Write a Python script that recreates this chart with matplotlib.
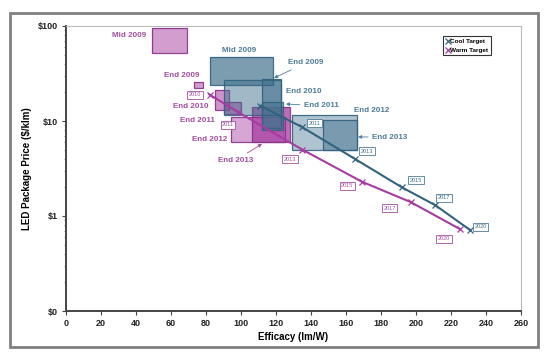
import matplotlib
matplotlib.use("Agg")
import matplotlib.pyplot as plt
from matplotlib.patches import Rectangle
from matplotlib.ticker import FixedLocator, LogLocator, NullFormatter

plt.rcParams['font.family'] = ['Liberation Sans', 'DejaVu Sans']

# ---- data ----
cool_years = ["2010", "2011", "2013", "2015", "2017", "2020"]
cool_eff = [111, 135, 165, 192, 211, 231]
cool_price = [14.5, 8.6, 4.0, 2.0, 1.3, 0.71]

warm_years = ["2010", "2011", "2013", "2015", "2017", "2020"]
warm_eff = [82, 98, 135, 169, 197, 225]
warm_price = [19.0, 12.5, 5.0, 2.3, 1.4, 0.73]

# boxes: (efficacy min, efficacy max, price min, price max)
box_names = ["Mid 2009", "End 2009", "End 2010", "End 2011", "End 2012", "End 2013"]
warm_eff_lo = [49, 73, 85, 90, 94, 106]
warm_eff_hi = [69, 78, 93, 100, 125, 128]
warm_price_lo = [52, 22, 13, 11.8, 6.0, 6.0]
warm_price_hi = [95, 26, 21, 16, 11, 14]

cool_eff_lo = [82, 112, 90, 112, 129, 147]
cool_eff_hi = [118, 123, 123, 124, 166, 166]
cool_price_lo = [24, 8.5, 11.6, 8.0, 5.0, 5.0]
cool_price_hi = [47, 28, 27, 16, 11.6, 10.2]

x_ticks = [0, 20, 40, 60, 80, 100, 120, 140, 160, 180, 200, 220, 240, 260]
y_ticks = [0.1, 1, 10, 100]
y_tick_labels = ["$0", "$1", "$10", "$100"]

# ---- styles ----
COOL = '#44728f'
COOL_EDGE = '#33627f'
WARM = '#a63ca0'
WARM_EDGE = '#8a3088'
COOL_TXT = '#4d7c98'
WARM_TXT = '#a24ca0'
warm_alpha = [0.5, 0.5, 0.55, 0.6, 0.45, 0.75]
cool_alpha = [0.7, 0.6, 0.5, 0.55, 0.42, 0.5]

fig = plt.figure(figsize=(5.55, 3.63), dpi=100)
ax = fig.add_axes([66/555, 1-311/363, (521-66)/555, (311-26)/363])

ax.set_xscale('linear')
ax.set_yscale('log')
ax.set_xlim(0, 260)
ax.set_ylim(0.1, 100)

# warm boxes
for i in range(len(box_names)):
    r = Rectangle((warm_eff_lo[i], warm_price_lo[i]), warm_eff_hi[i]-warm_eff_lo[i],
                  warm_price_hi[i]-warm_price_lo[i], facecolor=WARM, alpha=warm_alpha[i],
                  edgecolor='none', zorder=2)
    ax.add_patch(r)
    r2 = Rectangle((warm_eff_lo[i], warm_price_lo[i]), warm_eff_hi[i]-warm_eff_lo[i],
                   warm_price_hi[i]-warm_price_lo[i], facecolor='none', edgecolor=WARM_EDGE,
                   lw=0.9, alpha=0.9, zorder=2.1)
    ax.add_patch(r2)
# cool boxes
for i in range(len(box_names)):
    r = Rectangle((cool_eff_lo[i], cool_price_lo[i]), cool_eff_hi[i]-cool_eff_lo[i],
                  cool_price_hi[i]-cool_price_lo[i], facecolor=COOL, alpha=cool_alpha[i],
                  edgecolor='none', zorder=3)
    ax.add_patch(r)
    r2 = Rectangle((cool_eff_lo[i], cool_price_lo[i]), cool_eff_hi[i]-cool_eff_lo[i],
                   cool_price_hi[i]-cool_price_lo[i], facecolor='none', edgecolor=COOL_EDGE,
                   lw=0.9, alpha=0.9, zorder=3.1)
    ax.add_patch(r2)

# target lines
ax.plot(cool_eff, cool_price, color=COOL_EDGE, lw=1.5, marker='x', ms=4, mew=0.9,
        zorder=5, label='Cool Target')
ax.plot(warm_eff, warm_price, color=WARM, lw=1.5, marker='x', ms=4, mew=0.9,
        zorder=5, label='Warm Target')

# year labels
cool_lab_pos = [None, (142, 9.5), (172, 4.83), (200, 2.39), (216, 1.55), (237, 0.766)]
warm_lab_pos = [(73.7, 18.8), (92.6, 9.1), (128, 3.98), (160.6, 2.07), (185, 1.21), (216, 0.573)]
for yr, pos in zip(cool_years, cool_lab_pos):
    if pos is None:
        continue
    ax.text(pos[0], pos[1], yr, fontsize=4, color='#3a6d8e', ha='center', va='center', zorder=7,
            bbox=dict(boxstyle='square,pad=0.25', fc='white', ec='#4d7c98', lw=0.6))
for yr, pos in zip(warm_years, warm_lab_pos):
    ax.text(pos[0], pos[1], yr, fontsize=4, color='#a24ca0', ha='center', va='center', zorder=7,
            bbox=dict(boxstyle='square,pad=0.25', fc='white', ec='#a24ca0', lw=0.6))

# box labels - warm
fs = 5.8
ax.text(46, 78.5, "Mid 2009", color=WARM_TXT, fontsize=fs, fontweight='bold', ha='right', va='center')
ax.text(76, 29.8, "End 2009", color=WARM_TXT, fontsize=fs, fontweight='bold', ha='right', va='center')
ax.text(81.7, 14.05, "End 2010", color=WARM_TXT, fontsize=fs, fontweight='bold', ha='right', va='center')
ax.text(85, 10.2, "End 2011", color=WARM_TXT, fontsize=fs, fontweight='bold', ha='right', va='center')
ax.text(92, 6.46, "End 2012", color=WARM_TXT, fontsize=fs, fontweight='bold', ha='right', va='center')
ax.annotate("End 2013", xy=(112, 5.73), xytext=(97, 3.88), color=WARM_TXT, fontsize=fs,
            fontweight='bold', ha='center', va='center',
            arrowprops=dict(arrowstyle='-|>', color=WARM_TXT, lw=0.6, mutation_scale=5, shrinkA=1, shrinkB=0))
# box labels - cool
ax.text(99, 55.8, "Mid 2009", color=COOL_TXT, fontsize=fs, fontweight='bold', ha='center', va='center')
ax.annotate("End 2009", xy=(118.9, 28.4), xytext=(127, 40.8), color=COOL_TXT, fontsize=fs,
            fontweight='bold', ha='left', va='center',
            arrowprops=dict(arrowstyle='-|>', color=COOL_TXT, lw=0.6, mutation_scale=5, shrinkA=1, shrinkB=0))
ax.text(126, 20.2, "End 2010", color=COOL_TXT, fontsize=fs, fontweight='bold', ha='left', va='center')
ax.annotate("End 2011", xy=(125.7, 15.1), xytext=(136, 14.4), color=COOL_TXT, fontsize=fs,
            fontweight='bold', ha='left', va='center',
            arrowprops=dict(arrowstyle='-|>', color=COOL_TXT, lw=0.6, mutation_scale=5, shrinkA=1, shrinkB=0))
ax.text(164.6, 13, "End 2012", color=COOL_TXT, fontsize=fs, fontweight='bold', ha='left', va='center')
ax.annotate("End 2013", xy=(166.9, 6.8), xytext=(175, 6.77), color=COOL_TXT, fontsize=fs,
            fontweight='bold', ha='left', va='center',
            arrowprops=dict(arrowstyle='-|>', color=COOL_TXT, lw=0.6, mutation_scale=5, shrinkA=1, shrinkB=0))

# axes styling
ax.xaxis.set_major_locator(FixedLocator(x_ticks))
ax.set_xticklabels([str(v) for v in x_ticks])
ax.yaxis.set_major_locator(FixedLocator(y_ticks))
ax.set_yticklabels(y_tick_labels)
ax.yaxis.set_minor_locator(LogLocator(base=10, subs=range(2, 10)))
ax.yaxis.set_minor_formatter(NullFormatter())
for lbl in ax.get_xticklabels() + ax.get_yticklabels():
    lbl.set_fontweight('bold')
    lbl.set_fontsize(6.5)
    lbl.set_color('#222222')
ax.tick_params(axis='both', which='major', length=3, width=0.8, color='#444444', pad=3)
ax.tick_params(axis='y', which='minor', length=1.8, width=0.5, color='#666666')
for s in ['left', 'bottom']:
    ax.spines[s].set_color('#444444')
    ax.spines[s].set_linewidth(1.4)
for s in ['top', 'right']:
    ax.spines[s].set_color('#bbbbbb')
    ax.spines[s].set_linewidth(0.8)

ax.set_xlabel("Efficacy (lm/W)", fontsize=7, fontweight='bold', labelpad=3)
ax.set_ylabel("LED Package Price ($/klm)", fontsize=7, fontweight='bold', labelpad=4)

leg = ax.legend(loc='upper right', bbox_to_anchor=((494-66)/455, 1-7/285),
                frameon=True, fancybox=False, handlelength=0.6, handletextpad=0.1,
                borderpad=0.4, labelspacing=0.5, prop={'weight': 'bold', 'size': 4.6})
leg.get_frame().set_edgecolor('black')
leg.get_frame().set_linewidth(0.8)
for h in leg.legend_handles:
    h.set_linestyle('none')

# outer frame
fig.patches.append(Rectangle((10/555, 1-347/363), 528/555, 334/363, transform=fig.transFigure,
                             fill=False, edgecolor='#808080', lw=2))

fig.savefig("out.png", dpi=100)
